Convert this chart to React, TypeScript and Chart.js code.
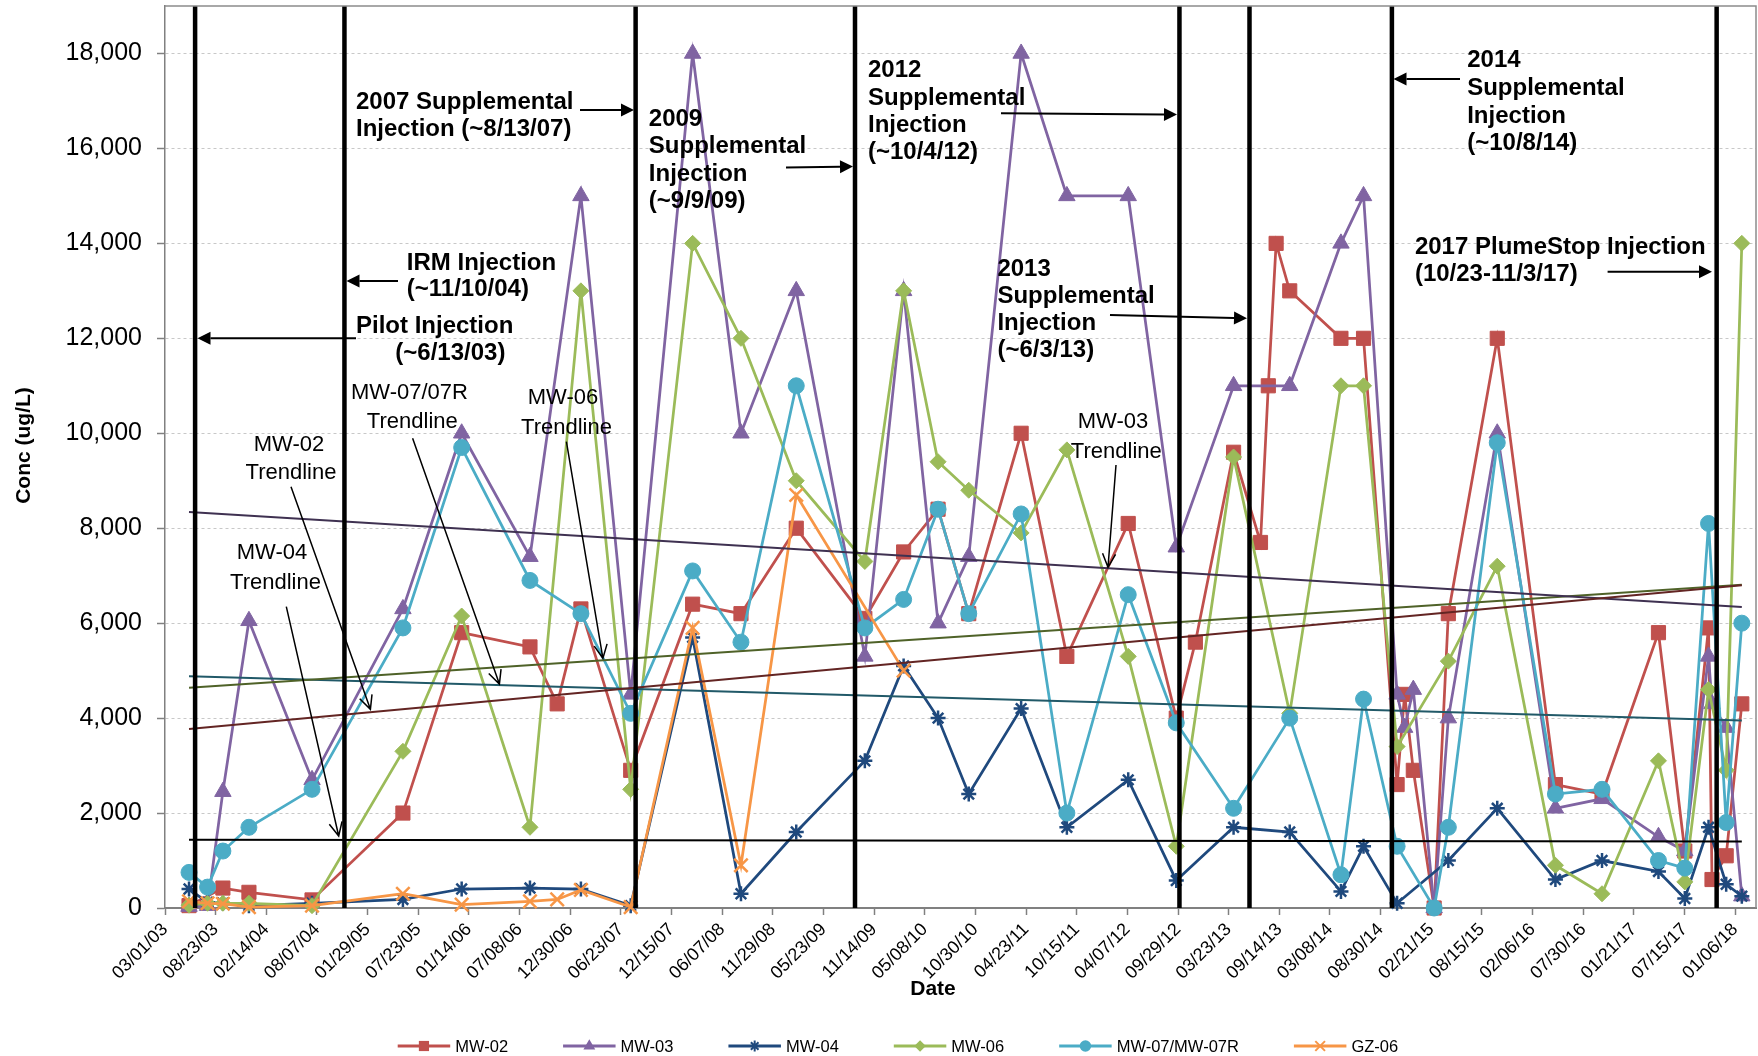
import React, { useEffect, useRef } from 'react';
import { Chart, registerables } from 'chart.js';

Chart.register(...registerables);

// ---------------- DATA ----------------
const SAMPLE_DATES = [
  '2003-05-23', '2003-07-26', '2003-09-17', '2003-12-16', '2004-07-21', '2005-05-31', '2005-12-20', '2006-08-13',
  '2006-11-15', '2007-02-05', '2007-07-27', '2008-02-26', '2008-08-11', '2009-02-18', '2009-10-13', '2010-02-24',
  '2010-06-23', '2010-10-07', '2011-04-06', '2011-09-11', '2012-04-10', '2012-09-23', '2012-11-28', '2013-04-09',
  '2013-07-11', '2013-08-07', '2013-09-03', '2013-10-20', '2014-04-15', '2014-07-02', '2014-10-26', '2014-11-21',
  '2014-12-21', '2015-03-03', '2015-04-21', '2015-10-07', '2016-04-25', '2016-10-03', '2017-04-16', '2017-07-16',
  '2017-10-06', '2017-10-18', '2017-12-06', '2018-01-29',
];

const MW02 = [50, null, 420, 330, 170, 2000, 5800, 5500, 4300, 6300, 2900, 6400, 6200, 8000, 6100, 7500, 8400, 6200, 10000, 5300, 8100, 4000, 5600, 9600, 7700, 11000, 14000, 13000, 12000, 12000, 2600, 4500, 2900, 0, 6200, 12000, 2600, 2400, 5800, 1200, 5900, 600, 1100, 4300];
const MW03 = [30, 50, 2450, 6050, 2700, 6300, 10000, 7400, null, 15000, 4500, 18000, 10000, 13000, 5300, 13000, 6000, 7400, 18000, 15000, 15000, 7600, null, 11000, null, null, null, 11000, 14000, 15000, 4500, 3800, 4600, 0, 4000, 10000, 2100, 2300, 1500, 1200, 5300, 4300, 3800, 250];
const MW04 = [400, 120, 100, 50, 100, 180, 400, 420, null, 400, 50, 5700, 300, 1600, 3100, 5100, 4000, 2400, 4200, 1700, 2700, 580, null, 1700, null, null, null, 1600, 350, 1300, 100, null, null, null, 1000, 2100, 600, 1000, 770, 200, 1700, null, 500, 250];
const MW06 = [60, 100, 100, 100, 50, 3300, 6150, 1700, null, 13000, 2500, 14000, 12000, 9000, 7300, 13000, 9400, 8800, 7900, 9650, 5300, 1300, null, 9500, null, null, null, 4100, 11000, 11000, 3400, null, null, null, 5200, 7200, 900, 300, 3100, 550, 4600, null, 2900, 14000];
const MW07 = [750, 440, 1200, 1700, 2500, 5900, 9700, 6900, null, 6200, 4100, 7100, 5600, 11000, 5900, 6500, 8400, 6200, 8300, 2000, 6600, 3900, null, 2100, null, null, null, 4000, 700, 4400, 1300, null, null, 0, 1700, 9800, 2400, 2500, 1000, 840, 8100, null, 1800, 6000];
const GZ06 = [140, 100, 90, 20, 50, 300, 70, 140, 180, 380, 20, 5900, 900, 8700, null, 5000, null, null, null, null, null, null, null, null, null, null, null, null, null, null, null, null, null, null, null, null, null, null, null, null, null, null, null, null];

// linear trendlines (start / end values)
const TREND_DATES = ['2003-05-23', '2018-01-29'];
const TREND_MW02 = [3770, 6800];
const TREND_MW03 = [8340, 6340];
const TREND_MW04 = [1440, 1400];
const TREND_MW06 = [4640, 6810];
const TREND_MW07 = [4880, 3950];

// injection events (vertical lines)
const INJECTION_DATES = ['2003-06-13', '2004-11-10', '2007-08-13', '2009-09-09', '2012-10-04', '2013-06-03', '2014-10-08', '2017-11-03'];

// axis ticks
const X_TICK_LABELS = [
  '03/01/03', '08/23/03', '02/14/04', '08/07/04', '01/29/05', '07/23/05', '01/14/06', '07/08/06', '12/30/06',
  '06/23/07', '12/15/07', '06/07/08', '11/29/08', '05/23/09', '11/14/09', '05/08/10', '10/30/10', '04/23/11',
  '10/15/11', '04/07/12', '09/29/12', '03/23/13', '09/14/13', '03/08/14', '08/30/14', '02/21/15', '08/15/15',
  '02/06/16', '07/30/16', '01/21/17', '07/15/17', '01/06/18',
];
const Y_TICKS = [0, 2000, 4000, 6000, 8000, 10000, 12000, 14000, 16000, 18000];
const X_AXIS_END_DAYS = 5497;
const Y_MAX = 19000;

// ---------------- HELPERS ----------------
const BASE = Date.UTC(2003, 2, 1);
const dayOfIso = (s: string) => {
  const [y, m, d] = s.split('-').map(Number);
  return Math.round((Date.UTC(y, m - 1, d) - BASE) / 86400000);
};
const dayOfLabel = (s: string) => {
  const [m, d, y] = s.split('/').map(Number);
  return Math.round((Date.UTC(2000 + y, m - 1, d) - BASE) / 86400000);
};
const X_TICK_VALUES = X_TICK_LABELS.map(dayOfLabel);

const FONT = "'Liberation Sans', Arial, Helvetica, sans-serif";

type Style = 'rect' | 'triangle' | 'star' | 'rectRot' | 'circle' | 'crossRot';

const SERIES: { label: string; values: (number | null)[]; color: string; style: Style; radius: number; bw: number }[] = [
  { label: 'MW-02', values: MW02, color: '#C0504D', style: 'rect', radius: 10, bw: 1 },
  { label: 'MW-03', values: MW03, color: '#8064A2', style: 'triangle', radius: 9.5, bw: 1 },
  { label: 'MW-04', values: MW04, color: '#1F497D', style: 'star', radius: 7.5, bw: 2.5 },
  { label: 'MW-06', values: MW06, color: '#9BBB59', style: 'rectRot', radius: 8, bw: 1 },
  { label: 'MW-07/MW-07R', values: MW07, color: '#4BACC6', style: 'circle', radius: 8, bw: 1 },
  { label: 'GZ-06', values: GZ06, color: '#F79646', style: 'crossRot', radius: 9.5, bw: 2.5 },
];

const TRENDS = [
  { values: TREND_MW02, color: '#632523' },
  { values: TREND_MW03, color: '#3F3151' },
  { values: TREND_MW04, color: '#000000' },
  { values: TREND_MW06, color: '#4F6228' },
  { values: TREND_MW07, color: '#215968' },
];

function drawMarker(ctx: CanvasRenderingContext2D, style: Style, x: number, y: number, r: number, color: string) {
  ctx.save();
  ctx.fillStyle = color;
  ctx.strokeStyle = color;
  ctx.lineWidth = 2;
  ctx.beginPath();
  if (style === 'rect') {
    const s = r * Math.SQRT1_2;
    ctx.rect(x - s, y - s, 2 * s, 2 * s);
    ctx.fill();
  } else if (style === 'triangle') {
    for (let k = 0; k < 3; k++) {
      const a = (k * 2 * Math.PI) / 3;
      const px = x + Math.sin(a) * r;
      const py = y - Math.cos(a) * r;
      if (k === 0) ctx.moveTo(px, py); else ctx.lineTo(px, py);
    }
    ctx.closePath();
    ctx.fill();
  } else if (style === 'rectRot') {
    ctx.moveTo(x, y - r); ctx.lineTo(x + r, y); ctx.lineTo(x, y + r); ctx.lineTo(x - r, y);
    ctx.closePath();
    ctx.fill();
  } else if (style === 'circle') {
    ctx.arc(x, y, r, 0, Math.PI * 2);
    ctx.fill();
  } else if (style === 'star') {
    ctx.moveTo(x, y - r); ctx.lineTo(x, y + r);
    const o = r * Math.SQRT1_2;
    ctx.moveTo(x - o, y - o); ctx.lineTo(x + o, y + o);
    ctx.moveTo(x + o, y - o); ctx.lineTo(x - o, y + o);
    ctx.stroke();
  } else if (style === 'crossRot') {
    const o = r * Math.SQRT1_2;
    ctx.moveTo(x - o, y - o); ctx.lineTo(x + o, y + o);
    ctx.moveTo(x + o, y - o); ctx.lineTo(x - o, y + o);
    ctx.stroke();
  }
  ctx.restore();
}

function filledArrow(ctx: CanvasRenderingContext2D, x1: number, y1: number, x2: number, y2: number) {
  const ang = Math.atan2(y2 - y1, x2 - x1);
  const L = 13, W = 6.5;
  const bx = x2 - Math.cos(ang) * L, by = y2 - Math.sin(ang) * L;
  ctx.beginPath();
  ctx.moveTo(x1, y1); ctx.lineTo(bx, by);
  ctx.lineWidth = 2; ctx.strokeStyle = '#000'; ctx.stroke();
  ctx.beginPath();
  ctx.moveTo(x2, y2);
  ctx.lineTo(bx + Math.sin(ang) * W, by - Math.cos(ang) * W);
  ctx.lineTo(bx - Math.sin(ang) * W, by + Math.cos(ang) * W);
  ctx.closePath();
  ctx.fillStyle = '#000'; ctx.fill();
}

function openArrow(ctx: CanvasRenderingContext2D, x1: number, y1: number, x2: number, y2: number) {
  const ang = Math.atan2(y2 - y1, x2 - x1);
  const L = 15, A = 0.45;
  ctx.beginPath();
  ctx.moveTo(x1, y1); ctx.lineTo(x2, y2);
  ctx.moveTo(x2 - Math.cos(ang - A) * L, y2 - Math.sin(ang - A) * L);
  ctx.lineTo(x2, y2);
  ctx.lineTo(x2 - Math.cos(ang + A) * L, y2 - Math.sin(ang + A) * L);
  ctx.lineWidth = 1.5; ctx.strokeStyle = '#000'; ctx.stroke();
}

const INJECTION_LABELS = [
  { lines: [['2007 Supplemental', 356, 108.9], ['Injection (~8/13/07)', 356, 136.2]], arrow: [580, 110, 634, 110] },
  { lines: [['IRM Injection', 406.8, 270.2], ['(~11/10/04)', 406.8, 296.2]], arrow: [398, 281, 346.5, 281] },
  { lines: [['Pilot Injection', 356, 333.2], ['(~6/13/03)', 395.3, 360.2]], arrow: [356, 338.3, 197.5, 338.3] },
  { lines: [['2009', 648.8, 125.5], ['Supplemental', 648.8, 153], ['Injection', 648.8, 180.5], ['(~9/9/09)', 648.8, 207.5]], arrow: [786, 167.5, 853, 166.5] },
  { lines: [['2012', 868, 77.2], ['Supplemental', 868, 105], ['Injection', 868, 132.2], ['(~10/4/12)', 868, 159]], arrow: [1001, 113.3, 1177, 114.5] },
  { lines: [['2013', 997.4, 275.5], ['Supplemental', 997.4, 302.5], ['Injection', 997.4, 329.5], ['(~6/3/13)', 997.4, 356.5]], arrow: [1110, 315, 1247, 318.3] },
  { lines: [['2014', 1467.2, 67.2], ['Supplemental', 1467.2, 94.5], ['Injection', 1467.2, 123], ['(~10/8/14)', 1467.2, 150]], arrow: [1460, 79, 1393.5, 79] },
  { lines: [['2017 PlumeStop Injection', 1414.9, 254], ['(10/23-11/3/17)', 1414.9, 280.5]], arrow: [1607.6, 271.7, 1712, 271.7] },
] as { lines: [string, number, number][]; arrow: number[] }[];

const TREND_LABELS = [
  { lines: [['MW-02', 289, 450.8], ['Trendline', 291, 478.8]], arrow: [291, 486.7, 370.4, 709.3] },
  { lines: [['MW-04', 272, 559], ['Trendline', 275.5, 589]], arrow: [286.3, 606.7, 338.7, 836] },
  { lines: [['MW-07/07R', 409.5, 398.8], ['Trendline', 412.3, 427.8]], arrow: [412.6, 438.3, 499.4, 684] },
  { lines: [['MW-06', 563, 403.8], ['Trendline', 566.5, 433.8]], arrow: [566.4, 441.7, 602.9, 658.3] },
  { lines: [['MW-03', 1113, 427.5], ['Trendline', 1116.3, 457.5]], arrow: [1116, 465, 1108, 567.3] },
] as { lines: [string, number, number][]; arrow: number[] }[];

const overlayPlugin = {
  id: 'overlay',
  afterDraw(chart: any) {
    const ctx: CanvasRenderingContext2D = chart.ctx;
    const ca = chart.chartArea;
    ctx.save();
    // plot area border (top / right)
    ctx.strokeStyle = '#8c8c8c';
    ctx.lineWidth = 1.5;
    ctx.beginPath();
    ctx.moveTo(ca.left, ca.top); ctx.lineTo(ca.right, ca.top); ctx.lineTo(ca.right, ca.bottom);
    ctx.stroke();

    // axis titles
    ctx.fillStyle = '#000';
    ctx.font = `bold 21px ${FONT}`;
    ctx.textAlign = 'center';
    ctx.textBaseline = 'alphabetic';
    ctx.fillText('Date', 933, 995);
    ctx.save();
    ctx.translate(30, 445.5);
    ctx.rotate(-Math.PI / 2);
    ctx.fillText('Conc (ug/L)', 0, 0);
    ctx.restore();

    // injection annotations
    ctx.font = `bold 24px ${FONT}`;
    ctx.textAlign = 'left';
    for (const a of INJECTION_LABELS) {
      for (const [t, x, y] of a.lines) ctx.fillText(t, x, y);
      filledArrow(ctx, a.arrow[0], a.arrow[1], a.arrow[2], a.arrow[3]);
    }

    // trendline annotations
    ctx.font = `22px ${FONT}`;
    ctx.textAlign = 'center';
    ctx.fillStyle = '#000';
    for (const a of TREND_LABELS) {
      for (const [t, x, y] of a.lines) ctx.fillText(t, x, y);
      openArrow(ctx, a.arrow[0], a.arrow[1], a.arrow[2], a.arrow[3]);
    }

    // legend
    const ly = 1046;
    let lx = 397.7;
    ctx.font = `16.5px ${FONT}`;
    ctx.textAlign = 'left';
    ctx.textBaseline = 'middle';
    for (const s of SERIES) {
      ctx.beginPath();
      ctx.moveTo(lx, ly); ctx.lineTo(lx + 52.5, ly);
      ctx.strokeStyle = s.color; ctx.lineWidth = 3; ctx.stroke();
      drawMarker(ctx, s.style, lx + 26.25, ly, s.radius * 0.72, s.color);
      ctx.fillStyle = '#000';
      ctx.fillText(s.label, lx + 57.5, ly + 1);
      lx = lx + 57.5 + ctx.measureText(s.label).width + 55;
    }
    ctx.restore();
  },
};

export default function App() {
  const ref = useRef<HTMLCanvasElement>(null);
  useEffect(() => {
    document.body.style.margin = '0';
    const datasets: any[] = [];
    // injection lines (on top)
    INJECTION_DATES.forEach((d) => {
      datasets.push({
        label: 'inj ' + d,
        data: [{ x: dayOfIso(d), y: 0 }, { x: dayOfIso(d), y: Y_MAX }],
        borderColor: '#000', backgroundColor: '#000', borderWidth: 4.5,
        pointRadius: 0, showLine: true, order: 0,
      });
    });
    TRENDS.forEach((t) => {
      datasets.push({
        label: 'trend',
        data: TREND_DATES.map((d, i) => ({ x: dayOfIso(d), y: t.values[i] })),
        borderColor: t.color, backgroundColor: t.color, borderWidth: 2,
        pointRadius: 0, showLine: true, order: 1,
      });
    });
    SERIES.forEach((s, si) => {
      const data = SAMPLE_DATES.map((d, i) => (s.values[i] == null ? null : { x: dayOfIso(d), y: s.values[i] as number }))
        .filter((p) => p !== null);
      datasets.push({
        label: s.label, data,
        borderColor: s.color, backgroundColor: s.color,
        pointBackgroundColor: s.color, pointBorderColor: s.color, pointBorderWidth: s.bw,
        pointStyle: s.style, pointRadius: s.radius, pointHoverRadius: s.radius,
        borderWidth: 2.75, showLine: true, tension: 0, clip: false,
        order: 10 - si,
      });
    });

    const chart = new Chart(ref.current as HTMLCanvasElement, {
      type: 'scatter',
      data: { datasets },
      options: {
        responsive: false,
        devicePixelRatio: 1,
        animation: false,
        events: [],
        layout: { autoPadding: false, padding: { top: 6, right: 2, left: 0, bottom: 0 } },
        plugins: { legend: { display: false }, tooltip: { enabled: false } },
        scales: {
          x: {
            type: 'linear', bounds: 'data', min: 0, max: X_AXIS_END_DAYS,
            afterBuildTicks: (scale: any) => { scale.ticks = X_TICK_VALUES.map((v) => ({ value: v })); },
            afterFit: (scale: any) => {
              scale.height = 148;
              scale.paddingLeft = 0; scale.paddingRight = 0; scale.paddingTop = 0; scale.paddingBottom = 0;
            },
            ticks: {
              autoSkip: false, minRotation: 45, maxRotation: 45, padding: 4,
              color: '#000', font: { family: FONT, size: 18 },
              callback: (_v: any, i: number) => X_TICK_LABELS[i],
            },
            grid: { drawOnChartArea: false, drawTicks: true, tickLength: 7, tickColor: '#808080', tickWidth: 1.5 },
            border: { color: '#808080', width: 2 },
          },
          y: {
            type: 'linear', bounds: 'data', min: 0, max: Y_MAX,
            afterBuildTicks: (scale: any) => { scale.ticks = Y_TICKS.map((v) => ({ value: v })); },
            afterFit: (scale: any) => {
              scale.width = 165;
              scale.paddingLeft = 0; scale.paddingRight = 0; scale.paddingTop = 0; scale.paddingBottom = 0;
            },
            ticks: {
              padding: 15, color: '#000', font: { family: FONT, size: 25 },
              callback: (v: any) => Number(v).toLocaleString('en-US'),
            },
            grid: {
              color: (c: any) => (c.tick && c.tick.value === 0 ? 'rgba(0,0,0,0)' : '#c8c8c8'),
              lineWidth: 1, tickLength: 8, tickColor: '#808080', tickWidth: 1.5,
            },
            border: { color: '#808080', width: 1.5, dash: [3, 3] },
          },
        },
      } as any,
      plugins: [overlayPlugin],
    });
    return () => chart.destroy();
  }, []);
  return (
    <div style={{ width: 1758, height: 1056, background: '#fff' }}>
      <canvas ref={ref} width={1758} height={1056} style={{ display: 'block', width: 1758, height: 1056 }} />
    </div>
  );
}
